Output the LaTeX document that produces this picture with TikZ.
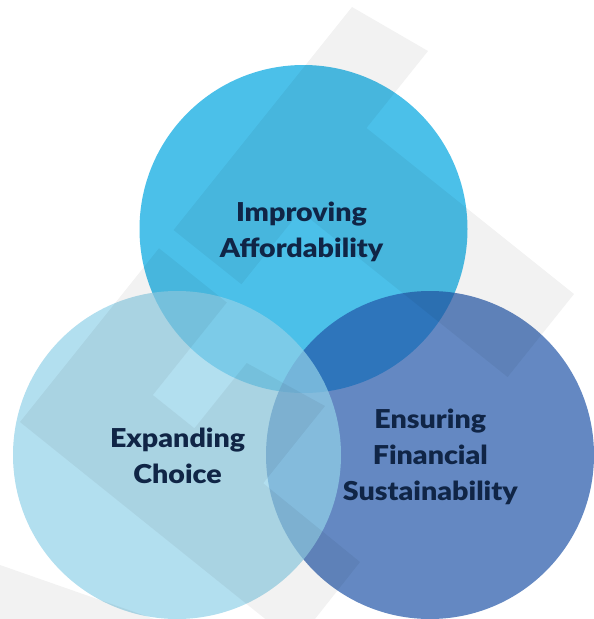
\documentclass[tikz,border=0pt]{standalone}
\usepackage{fontspec}
\setmainfont{Lato}[BoldFont={Lato Black}, FakeStretch=1.1]
\usetikzlibrary{calc}
\definecolor{MyCyan}{RGB}{75,192,233}
\definecolor{MyLight}{RGB}{146,209,232}
\definecolor{MyNavy}{RGB}{34,86,168}
\definecolor{MyInk}{RGB}{16,37,70}

\begin{document}
\begin{tikzpicture}[x=1pt, y=-1pt]
	\tikzstyle{bub} = [circle, inner sep=0pt, minimum size=328pt]
	\tikzstyle{lbl} = [align=center, inner sep=0pt, text=MyInk, font=\fontsize{26}{36}\selectfont\bfseries]
	\tikzstyle{band} = [fill=black, fill opacity=0.05]
	\useasboundingbox (0,0) rectangle (594,619);
	\clip (0,0) rectangle (594,619);

	\node[bub, fill=MyCyan] (imp) at (303.5,229) {};
	\node[bub, fill=MyNavy, fill opacity=0.7] (fin) at (430,455) {};
	\node[bub, fill=MyLight, fill opacity=0.7] (exp) at (177,455) {};

	% upper part of the frame
	\coordinate (ta) at (352,7);
	\coordinate (tb) at (428,51);
	\coordinate (tc) at (366.4,128);
	\coordinate (te) at (574,294);
	\coordinate (tf) at (507.6,377);
	\coordinate (tj) at (300.1,210.9);
	\coordinate (tk) at (241.4,284.2);
	\coordinate (tl) at (173.6,230);
	\fill[band] (ta) -- (tb) -- (tc) -- (te) -- (tf) -- (tj) -- (tk) -- (tl) -- cycle;

	% lower part of the frame
	\coordinate (la) at (159,248.3);
	\coordinate (lb) at (226.8,302.5);
	\coordinate (lc) at (152.8,395);
	\coordinate (ld) at (194.4,428.3);
	\coordinate (le) at (246.7,363);
	\coordinate (lf) at (325,406);
	\coordinate (lg) at (263.2,483.2);
	\coordinate (lh) at (360,562);
	\coordinate (li) at (295.7,643.4);
	\coordinate (lj) at (20,422);
	\fill[band] (la) -- (lb) -- (lc) -- (ld) -- (le) -- (lf) -- (lg) -- (lh) -- (li) -- (lj) -- cycle;

	\fill[band] (0,565) -- (200,635) -- (0,635) -- cycle;

	\node[lbl] (impt) at (301.5,232) {Improving\\Affordability};
	\node[lbl] (expt) at (177.6,455.6) {Expanding\\Choice};
	\node[lbl] (fint) at (430.3,456.6) {Ensuring\\Financial\\Sustainability};
\end{tikzpicture}
\end{document}
